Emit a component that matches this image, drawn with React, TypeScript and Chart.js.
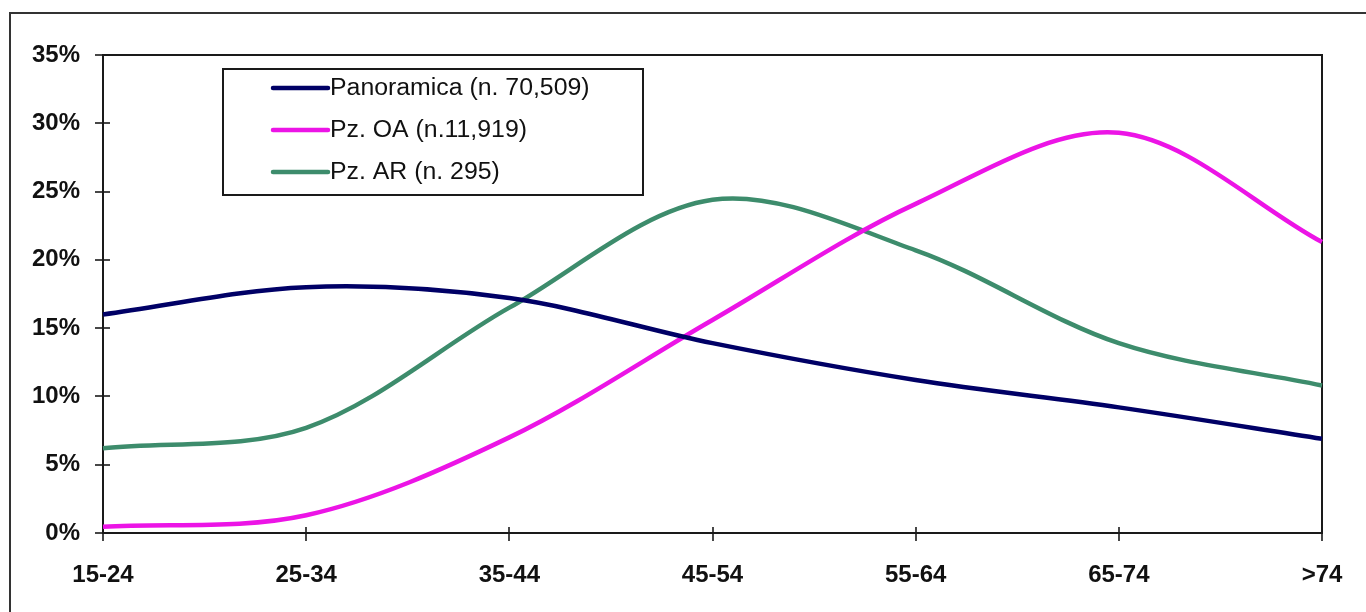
import React, { useEffect, useRef } from 'react';
import { Chart, registerables } from 'chart.js';

Chart.register(...registerables);

const categories = ['15-24', '25-34', '35-44', '45-54', '55-64', '65-74', '>74'];
const panoramica = [16.0, 18.0, 17.2, 13.9, 11.2, 9.2, 6.9];
const pzOA = [0.45, 1.3, 7.0, 15.6, 24.1, 29.3, 21.3];
const pzAR = [6.2, 7.7, 16.5, 24.4, 20.7, 13.9, 10.8];
const seriesLabels = ['Panoramica (n. 70,509)', 'Pz. OA (n.11,919)', 'Pz. AR (n. 295)'];
const seriesColors = ['#000066', '#ec14e6', '#3d8c6c'];
const yMin = 0;
const yMax = 35;
const yStep = 5;

const FONT = "'Liberation Sans', Arial, sans-serif";

const decorPlugin = {
  id: 'decor',
  beforeDraw(chart: any) {
    const { ctx, width, height } = chart;
    ctx.save();
    ctx.fillStyle = '#ffffff';
    ctx.fillRect(0, 0, width, height);
    ctx.strokeStyle = '#333333';
    ctx.lineWidth = 2;
    ctx.strokeRect(10, 13, width + 40, height + 40);
    ctx.restore();
  },
  beforeDatasetsDraw(chart: any) {
    const { ctx, chartArea } = chart;
    const xs = chart.scales.x;
    const ys = chart.scales.y;
    ctx.save();
    ctx.strokeStyle = '#1a1a1a';
    ctx.lineWidth = 2;
    ctx.strokeRect(chartArea.left, chartArea.top, chartArea.right - chartArea.left, chartArea.bottom - chartArea.top);
    ctx.lineWidth = 1.6;
    ys.ticks.forEach((_: any, i: number) => {
      const y = Math.round(ys.getPixelForTick(i));
      ctx.beginPath();
      ctx.moveTo(chartArea.left - 8, y);
      ctx.lineTo(chartArea.left + 7, y);
      ctx.stroke();
    });
    xs.ticks.forEach((_: any, i: number) => {
      const x = Math.round(xs.getPixelForTick(i));
      ctx.beginPath();
      ctx.moveTo(x, chartArea.bottom - 6);
      ctx.lineTo(x, chartArea.bottom + 8);
      ctx.stroke();
    });
    ctx.restore();
  },
  afterDraw(chart: any) {
    const { ctx } = chart;
    const box = { x: 223, y: 69, w: 420, h: 126 };
    ctx.save();
    ctx.fillStyle = '#ffffff';
    ctx.fillRect(box.x, box.y, box.w, box.h);
    ctx.strokeStyle = '#1a1a1a';
    ctx.lineWidth = 2;
    ctx.strokeRect(box.x, box.y, box.w, box.h);
    const rows = [88, 130, 172];
    chart.data.datasets.forEach((ds: any, i: number) => {
      const y = rows[i];
      ctx.strokeStyle = ds.borderColor;
      ctx.lineWidth = 4.5;
      ctx.lineCap = 'round';
      ctx.beginPath();
      ctx.moveTo(273, y);
      ctx.lineTo(328, y);
      ctx.stroke();
      ctx.fillStyle = '#111111';
      ctx.font = `23px ${FONT}`;
      ctx.textBaseline = 'middle';
      ctx.textAlign = 'left';
      ctx.save();
      ctx.translate(330, y + 1);
      ctx.scale(1.08, 1);
      ctx.fillText(ds.label, 0, 0);
      ctx.restore();
    });
    ctx.restore();
  },
};

export default function App() {
  const canvasRef = useRef<HTMLCanvasElement | null>(null);

  useEffect(() => {
    const canvas = canvasRef.current;
    if (!canvas) return;
    const chart = new Chart(canvas, {
      type: 'line',
      data: {
        labels: categories,
        datasets: [
          { label: seriesLabels[0], data: panoramica, borderColor: seriesColors[0], backgroundColor: seriesColors[0] },
          { label: seriesLabels[1], data: pzOA, borderColor: seriesColors[1], backgroundColor: seriesColors[1] },
          { label: seriesLabels[2], data: pzAR, borderColor: seriesColors[2], backgroundColor: seriesColors[2] },
        ].map((d) => ({ ...d, borderWidth: 4.5, pointRadius: 0, tension: 0.33, fill: false })),
      },
      options: {
        responsive: false,
        animation: false,
        devicePixelRatio: 1,
        layout: { padding: { top: 55, right: 44, left: 0, bottom: 0 } },
        plugins: {
          legend: { display: false },
          tooltip: { enabled: false },
        },
        scales: {
          x: {
            offset: false,
            grid: { display: false },
            border: { display: false },
            ticks: {
              color: '#111111',
              font: { family: FONT, size: 24, weight: 'bold' },
              padding: 20,
              maxRotation: 0,
              autoSkip: false,
            },
            afterFit(scale: any) {
              scale.height = 79;
              scale.paddingLeft = 0;
              scale.paddingRight = 0;
            },
          },
          y: {
            min: yMin,
            max: yMax,
            grid: { display: false },
            border: { display: false },
            ticks: {
              stepSize: yStep,
              color: '#111111',
              font: { family: FONT, size: 24, weight: 'bold' },
              padding: 15,
              callback: (v: any) => `${v}%`,
            },
            afterFit(scale: any) {
              scale.width = 103;
            },
          },
        },
      },
      plugins: [decorPlugin],
    });
    return () => chart.destroy();
  }, []);

  return (
    <div style={{ position: 'fixed', left: 0, top: 0, width: 1366, height: 612, background: '#fff' }}>
      <canvas ref={canvasRef} width={1366} height={612} style={{ display: 'block' }} />
    </div>
  );
}
